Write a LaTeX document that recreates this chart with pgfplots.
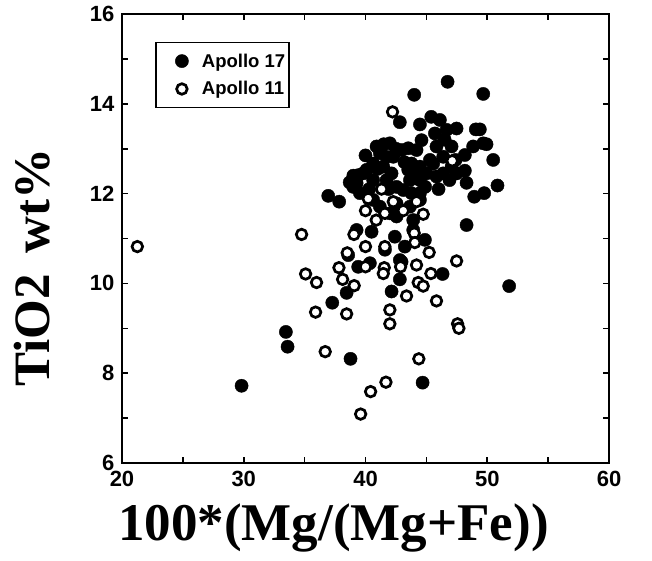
\documentclass[border=0pt]{standalone}
\usepackage{fontspec}
\setmainfont{Liberation Sans}
\newfontfamily\labelfont{Liberation Serif}
\usepackage{pgfplots}
\pgfplotsset{compat=1.18}

\begin{document}
\begin{tikzpicture}
\useasboundingbox (-122pt,-97pt) rectangle (530pt,463pt);
\begin{axis}[
  scale only axis, width=487pt, height=449pt,
  xmin=20, xmax=60, ymin=6, ymax=16,
  xtick={20,30,...,60}, ytick={6,8,...,16},
  minor x tick num=1, minor y tick num=1,
  tick align=inside, major tick length=6pt, minor tick length=6pt,
  every tick/.style={line width=1.6pt, black},
  axis line style={line width=2.2pt},
  /pgf/number format/assume math mode=true,
  tick label style={font=\bfseries\fontsize{22}{22}\selectfont},
  xticklabel style={yshift=-5pt},
  yticklabel style={xshift=-4pt},
  xlabel={\labelfont\bfseries\fontsize{53}{53}\selectfont 100*(Mg/(Mg+Fe))},
  ylabel={\labelfont\bfseries\fontsize{51}{51}\selectfont TiO2\, wt\%},
  xlabel style={xshift=-32pt, yshift=-10pt},
  ylabel style={xshift=-29pt, yshift=33pt},
  legend style={at={(0.068,0.938)}, anchor=north west, draw=black,
    line width=1.6pt, font=\bfseries\fontsize{18.5}{19}\selectfont,
    inner xsep=2pt, inner ysep=9pt, row sep=9pt},
  legend cell align=left,
  legend image code/.code={\path[draw=none] (0pt,0pt) -- (42pt,0pt);
    \draw[#1] plot coordinates {(24pt,0pt)};},
]
\addplot[only marks, mark=*, mark size=6.6pt, mark options={fill=black, draw=black, line width=0.4pt}]
coordinates {
(29.82,7.72) (33.46,8.92) (33.60,8.59) (37.27,9.57) (38.77,8.32) (44.69,7.79)
(51.80,9.94) (48.30,11.30) (38.45,9.79) (42.14,9.82) (42.82,10.09) (42.96,10.48)
(46.33,10.21) (36.94,11.95) (37.84,11.82)
(38.58,10.63) (39.40,10.37) (40.50,11.15) (39.27,11.19) (42.41,11.04) (43.23,10.82)
(44.88,10.97) (43.92,11.19) (41.60,10.75) (40.36,10.45) (42.82,10.52)
(49.67,14.22) (46.74,14.49) (44.00,14.20) (42.82,13.59) (44.47,13.54) (45.40,13.71)
(46.11,13.64) (45.70,13.34) (46.66,13.42) (47.48,13.45) (49.06,13.43) (49.39,13.43)
(49.67,13.12) (49.94,13.10) (48.84,13.05) (48.16,12.86) (50.49,12.75)
(48.16,12.51) (47.48,12.45) (48.30,12.24) (50.84,12.18) (48.93,11.93) (49.75,12.01)
(46.00,12.10) (46.38,12.45) (46.38,12.82) (45.83,13.05) (45.56,12.67) (44.60,13.19)
(44.19,12.97) (43.78,12.67) (42.96,12.97) (43.51,13.01) (42.00,13.12) (40.91,13.05)
(41.18,12.90) (41.73,12.82) (40.63,12.67) (40.09,12.53) (39.40,12.41) (39.27,12.23)
(38.99,12.15) (39.54,12.01) (39.81,12.45) (40.63,12.30) (41.73,12.30) (42.14,12.45)
(42.55,12.15) (43.10,12.08) (43.65,12.30) (44.47,12.30) (45.01,12.45) (44.47,12.60)
(45.29,12.75) (43.78,12.01) (44.47,12.01) (42.55,11.78) (42.00,11.56) (42.55,11.49)
(43.65,11.71) (43.92,11.41) (44.47,11.86) (40.63,11.86) (41.18,11.71)
(41.46,12.60) (42.28,12.82) (45.83,12.38) (47.07,13.05) (47.07,12.60) (44.06,12.49)
(43.51,12.53) (39.00,12.40) (38.70,12.25) (40.30,12.10) (41.00,12.55) (41.50,13.10)
(42.50,13.00) (43.20,12.70) (44.90,12.15) (46.90,12.30) (47.40,12.75) (46.50,13.20)
(41.90,12.10) (40.00,12.85)
};
\addlegendentry{Apollo 17}
\addplot[only marks, mark=*, mark size=5.3pt, mark options={fill=white, draw=black, line width=2.7pt}]
coordinates {
(21.26,10.82) (34.75,11.09) (35.08,10.21) (35.98,10.02) (35.90,9.36) (36.69,8.48)
(37.82,10.35) (38.12,10.09) (38.50,10.68) (39.05,11.09) (39.07,9.95) (38.45,9.32)
(40.00,10.82) (40.00,10.37) (40.00,11.62) (40.22,11.89) (40.88,11.41) (41.32,12.10)
(41.59,11.56) (41.59,10.82) (41.54,10.35) (41.46,10.22) (42.22,13.82) (42.28,11.82)
(42.00,9.41) (42.00,9.10) (43.37,9.72) (42.88,10.37) (43.10,11.62) (44.19,11.82)
(44.74,11.54) (44.00,11.12) (44.05,10.91) (44.19,10.41) (45.23,10.69) (44.33,10.02)
(44.74,9.94) (45.37,10.22) (45.83,9.61) (44.38,8.32) (41.68,7.80) (40.42,7.59)
(39.60,7.09) (47.48,10.50) (47.56,9.10) (47.67,9.00) (47.12,12.73)
};
\addlegendentry{Apollo 11}
\end{axis}
\end{tikzpicture}
\end{document}
